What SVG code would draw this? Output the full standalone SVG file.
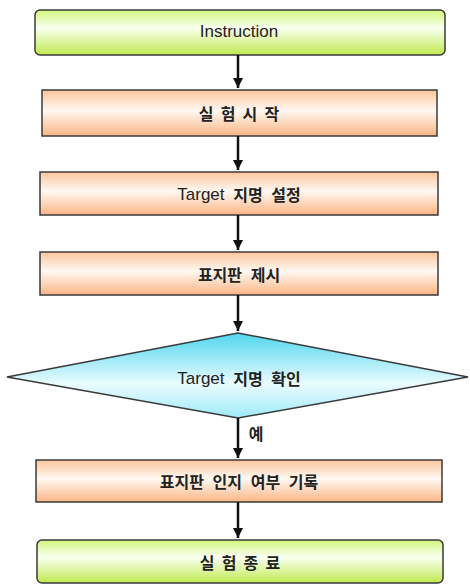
<svg xmlns="http://www.w3.org/2000/svg" width="470" height="585" viewBox="0 0 470 585">
<defs>
<linearGradient id="gGreen" x1="0" y1="0" x2="0" y2="1">
<stop offset="0" stop-color="#d2f67c"/>
<stop offset="0.4" stop-color="#fafff0"/>
<stop offset="1" stop-color="#c0ea50"/>
</linearGradient>
<linearGradient id="gOrange" x1="0" y1="0" x2="0" y2="1">
<stop offset="0" stop-color="#fcc69c"/>
<stop offset="0.45" stop-color="#fff8f2"/>
<stop offset="1" stop-color="#fab583"/>
</linearGradient>
<linearGradient id="gCyan" x1="0" y1="0" x2="0" y2="1">
<stop offset="0" stop-color="#4fd6ee"/>
<stop offset="0.6" stop-color="#eafcff"/>
<stop offset="1" stop-color="#9eeaf8"/>
</linearGradient>
<marker id="ah" markerWidth="12" markerHeight="10" refX="10" refY="5" orient="auto" markerUnits="userSpaceOnUse">
<path d="M0,0 L10,5 L0,10 Z" fill="#111"/>
</marker>
<style>
.box{stroke:#3a3a3a;stroke-width:1.5}
.t{font-family:"Liberation Sans","Noto Sans CJK KR",sans-serif;font-size:16px;fill:#222;text-anchor:middle;dominant-baseline:central;word-spacing:5px}
.k{font-weight:bold;font-family:"Noto Sans CJK KR","Liberation Sans",sans-serif}
.sp{word-spacing:3.5px}
.lat{font-family:"Liberation Sans",sans-serif;font-weight:normal;font-size:17px}
.c{stroke:#111;stroke-width:2.5;fill:none}
</style>
</defs>
<g id="n1">
<rect class="box" fill="url(#gGreen)" x="35" y="10" width="410" height="45" rx="5"/>
<text class="t" x="239" y="31" style="font-size:17px">Instruction</text>
</g>
<g id="n2">
<rect class="box" fill="url(#gOrange)" x="42" y="90" width="395" height="46"/>
<text class="t k sp" x="239" y="113">실 험 시 작</text>
</g>
<g id="n3">
<rect class="box" fill="url(#gOrange)" x="40" y="172" width="398" height="43"/>
<text class="t k" x="239" y="194"><tspan class="lat">Target</tspan> 지명 설정</text>
</g>
<g id="n4">
<rect class="box" fill="url(#gOrange)" x="40" y="252" width="398" height="43"/>
<text class="t k" x="239" y="274">표지판 제시</text>
</g>
<g id="n5">
<polygon class="box" fill="url(#gCyan)" points="238,333 468,377 238,418 7,377"/>
<text class="t k" x="239" y="378"><tspan class="lat">Target</tspan> 지명 확인</text>
</g>
<g id="n6">
<rect class="box" fill="url(#gOrange)" x="36" y="460" width="406" height="42"/>
<text class="t k" x="239" y="481">표지판 인지 여부 기록</text>
</g>
<g id="n7">
<rect class="box" fill="url(#gGreen)" x="37" y="540" width="406" height="43" rx="5"/>
<text class="t k sp" x="240" y="562">실 험 종 료</text>
</g>
<g id="connectors">
<line class="c" x1="238" y1="55" x2="238" y2="88" marker-end="url(#ah)"/>
<line class="c" x1="238" y1="136" x2="238" y2="170" marker-end="url(#ah)"/>
<line class="c" x1="238" y1="215" x2="238" y2="250" marker-end="url(#ah)"/>
<line class="c" x1="238" y1="295" x2="238" y2="331" marker-end="url(#ah)"/>
<line class="c" x1="238" y1="418" x2="238" y2="458" marker-end="url(#ah)"/>
<text class="t k" x="256" y="433">예</text>
<line class="c" x1="238" y1="502" x2="238" y2="538" marker-end="url(#ah)"/>
</g>
</svg>
